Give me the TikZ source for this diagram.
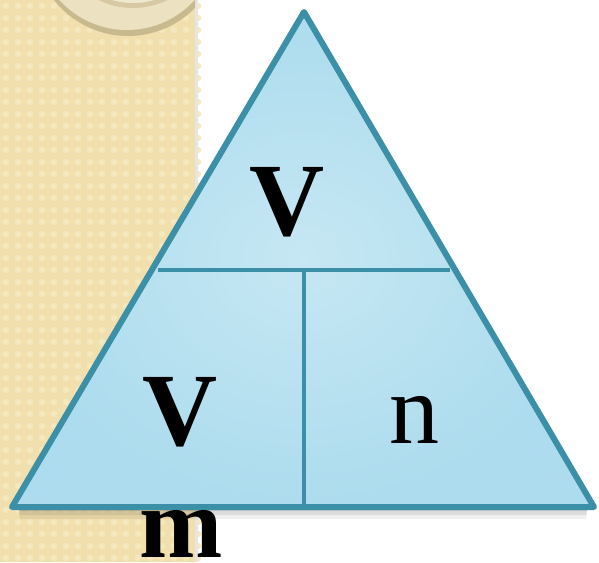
\documentclass[tikz,border=0pt]{standalone}
\usepackage{fontspec}
\setmainfont{Liberation Serif}
\usetikzlibrary{calc}
\definecolor{paper}{HTML}{F1E0AE}
\definecolor{paperdot}{HTML}{F5E7BE}
\definecolor{ring}{HTML}{ECE2C2}
\definecolor{ringedge}{HTML}{C9B98E}
\definecolor{trifill}{HTML}{ACDCEE}
\definecolor{trilight}{HTML}{C6E7F3}
\definecolor{triedge}{HTML}{3B90A7}

\begin{document}
\begin{tikzpicture}[x=1pt,y=-1pt,
    letter/.style={anchor=base,inner sep=0pt,font=\fontsize{104}{110}\selectfont},
    divider/.style={triedge,line width=3.5pt}]
  \useasboundingbox (0,0) rectangle (599,562);

  % Textured side panel with the ring at its top.
  \fill[paper] (0,0) rectangle (195,562);
  \foreach \i in {0,...,16} {
    \foreach \j in {0,...,47} {
      \fill[paperdot] ({\i*12+6},{\j*12+6}) circle (3.2);
    }
  }
  \fill[gray!20] (195,0) rectangle (198,562);
  \begin{scope}
    \clip (0,0) rectangle (195,562);
    \fill[ringedge] (128,-58) circle (94);
    \fill[ring] (127,-61) circle (91);
    \fill[ringedge!60!ring] (133,-70) circle (78);
    \fill[ring!80!white] (133,-72) circle (75);
  \end{scope}

  % Triangle corners and the two dividing lines.
  \coordinate (apex) at (304,12);
  \coordinate (baseL) at (12,507);
  \coordinate (baseR) at (594,507);
  \coordinate (midL) at (158,270);
  \coordinate (midR) at (450,270);
  \coordinate (midC) at (304,270);
  \coordinate (baseC) at (304,505);
  \foreach \k/\o in {4/0.10,8/0.08,12/0.06} {
    \fill[black,opacity=\o] ($(baseL)+(6,0)$) -- ($(baseR)+(-6,0)$) -- ($(baseR)+(-8,\k)$) -- ($(baseL)+(8,\k)$) -- cycle;
  }
  \shade[inner color=trilight,outer color=trifill] (apex) -- (baseR) -- (baseL) -- cycle;
  \draw[divider] (midL) -- (midR);
  \draw[divider] (midC) -- (baseC);
  \draw[triedge,line width=6pt,line join=round] (apex) -- (baseR) -- (baseL) -- cycle;

  % Letters of the formula triangle.
  \node[letter,font=\fontsize{104}{110}\selectfont\bfseries] (volume) at (287,235) {V};
  \node[letter,font=\fontsize{104}{110}\selectfont\bfseries] (molarV) at (180,445) {V};
  \node[letter,font=\fontsize{100}{110}\selectfont\bfseries] (molarsub) at (181,557) {m};
  \node[letter,font=\fontsize{100}{110}\selectfont] (amount) at (414,443) {n};
\end{tikzpicture}
\end{document}
